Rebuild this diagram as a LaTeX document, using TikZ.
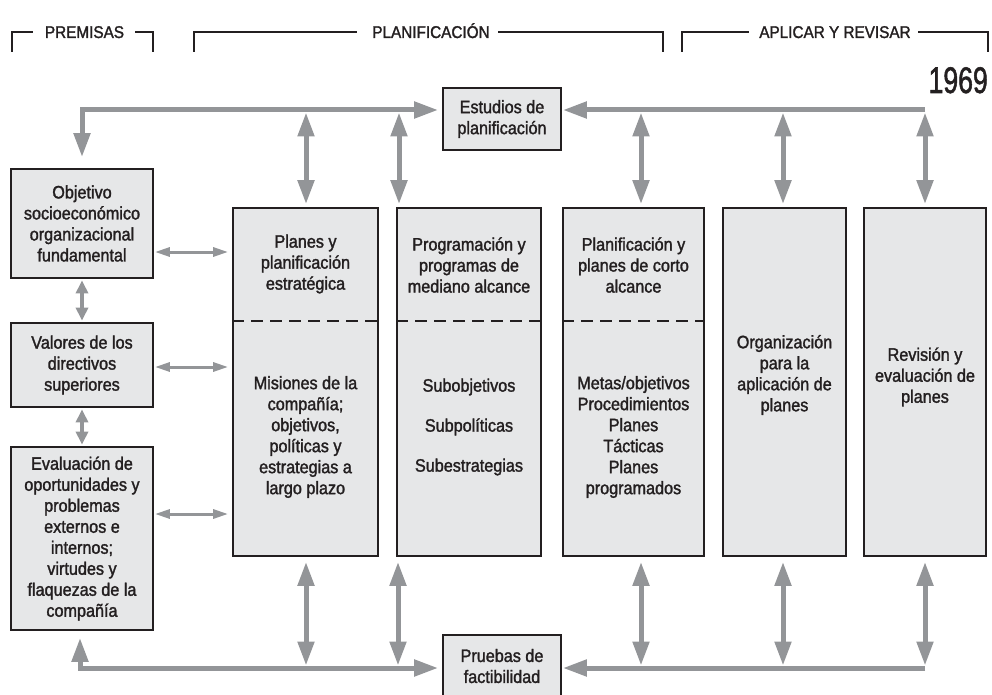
\documentclass[tikz,border=0pt]{standalone}
\usepackage{fontspec}
\setmainfont[FakeStretch=0.9, FakeBold=1.6]{Liberation Sans}
\usetikzlibrary{arrows.meta}
\definecolor{ink}{HTML}{231F20}
\definecolor{boxgray}{HTML}{E6E7E8}
\definecolor{flow}{HTML}{939598}
\tikzset{
  box/.style={draw=ink, line width=1.8pt, fill=boxgray, inner sep=0pt,
    align=center, text=ink, font=\fontsize{18}{21}\selectfont},
  txt/.style={align=center, text=ink, inner sep=0pt, font=\fontsize{18}{21}\selectfont},
  hdr/.style={text=ink, inner sep=0pt, font=\fontsize{17}{20}\selectfont},
  bracket/.style={draw=ink, line width=2pt},
  dashsep/.style={draw=ink, line width=1.4pt, dash pattern=on 12pt off 7pt},
  big/.style={draw=flow, line width=5pt, >={Triangle[length=24pt,width=16pt]}},
  mid/.style={draw=flow, line width=4pt, >={Triangle[length=13pt,width=12pt]}},
  small/.style={draw=flow, line width=3pt, >={Triangle[length=15pt,width=9pt]}},
}
\begin{document}
\begin{tikzpicture}[x=1pt,y=-1pt]
\useasboundingbox (0,0) rectangle (992,695);

% section headings with their brackets
\node[hdr, anchor=base] (hP) at (84.5,38) {PREMISAS};
\node[hdr, anchor=base] (hL) at (431,38) {PLANIFICACIÓN};
\node[hdr, anchor=base] (hA) at (835,38) {APLICAR Y REVISAR};
\draw[bracket] (12,52) -- (12,32) -- (33,32);
\draw[bracket] (135,32) -- (153,32) -- (153,52);
\draw[bracket] (194,52) -- (194,32) -- (357,32);
\draw[bracket] (498,32) -- (663,32) -- (663,52);
\draw[bracket] (682,52) -- (682,32) -- (749,32);
\draw[bracket] (918,32) -- (988,32) -- (988,52);
\node[anchor=base east, text=ink, inner sep=0pt, font=\fontsize{37}{37}\selectfont]
  (yr) at (988,93) {\scalebox{0.8}[1]{1969}};

% premises column
\node[box, minimum width=142pt, minimum height=109pt] (obj) at (82,223.5)
  {Objetivo\\socioeconómico\\organizacional\\fundamental};
\node[box, minimum width=142pt, minimum height=84pt] (val) at (82,365)
  {Valores de los\\directivos\\superiores};
\node[box, minimum width=142pt, minimum height=183pt] (eva) at (82,538.5)
  {Evaluación de\\oportunidades y\\problemas\\externos e\\internos;\\virtudes y\\flaquezas de la\\compañía};

% planning and application columns
\node[box, minimum width=145pt, minimum height=348pt] (b1) at (305.5,382) {};
\node[box, minimum width=144pt, minimum height=348pt] (b2) at (469,382) {};
\node[box, minimum width=141pt, minimum height=348pt] (b3) at (633.5,382) {};
\node[box, minimum width=123pt, minimum height=348pt] (b4) at (784.5,382) {};
\node[box, minimum width=122pt, minimum height=348pt] (b5) at (925,382) {};

\coordinate (dy) at (0,321);
\draw[dashsep] (b1.west |- dy) -- (b1.east |- dy);
\draw[dashsep] (b2.west |- dy) -- (b2.east |- dy);
\draw[dashsep] (b3.west |- dy) -- (b3.east |- dy);

\node[txt] (b1a) at (305.5,264) {Planes y\\planificación\\estratégica};
\node[txt] (b1b) at (305.5,437) {Misiones de la\\compañía;\\objetivos,\\políticas y\\estrategias a\\largo plazo};
\node[txt] (b2a) at (469,265) {Programación y\\programas de\\mediano alcance};
\node[txt] (b2b) at (469,427) {Subobjetivos\\[19pt]Subpolíticas\\[19pt]Subestrategias};
\node[txt] (b3a) at (633.5,265) {Planificación y\\planes de corto\\alcance};
\node[txt] (b3b) at (633.5,437) {Metas/objetivos\\Procedimientos\\Planes\\Tácticas\\Planes\\programados};
\node[txt] (b4a) at (784.5,375) {Organización\\para la\\aplicación de\\planes};
\node[txt] (b5a) at (925,377) {Revisión y\\evaluación de\\planes};

% studies and feasibility boxes
\node[box, minimum width=118pt, minimum height=62pt] (est) at (502,119)
  {Estudios de\\planificación};
\node[box, minimum width=118pt, minimum height=62pt] (pru) at (502,666)
  {Pruebas de\\factibilidad};

% junction points on the top and bottom flow lines
\coordinate (c1) at (306,110);
\coordinate (c2) at (399,110);
\coordinate (c3) at (641,110);
\coordinate (c4) at (783,110);
\coordinate (c5) at (925,110);
\coordinate (d1) at (306,668);
\coordinate (d2) at (398,668);
\coordinate (d3) at (641,668);
\coordinate (d4) at (783,668);
\coordinate (d5) at (925,668);
\coordinate (bl) at (80,668);

% top flow line
\draw[big, <->, shorten <=11pt, shorten >=4pt]
  (obj.north) -- (obj.north |- c1) -- (est.west |- c1);
\draw[big, ->, shorten >=1pt] (c5) -- (est.east |- c5);
\foreach \c/\b in {c1/b1, c2/b2, c3/b3, c4/b4, c5/b5}
  \draw[big, <->, shorten >=3pt] ([yshift=-2.5pt]\c) -- (\c |- \b.north);

% bottom flow line
\draw[big, <->, shorten <=7pt, shorten >=4pt]
  (eva.south -| bl) -- (bl) -- (pru.west |- bl);
\draw[big, ->, shorten >=1pt] (d5) -- (pru.east |- d5);
\foreach \d/\b in {d1/b1, d2/b2, d3/b3, d4/b4, d5/b5}
  \draw[big, <->, shorten <=5pt] (\b.south -| \d) -- ([yshift=2.5pt]\d);

% links inside the premises column
\draw[mid, <->, shorten <=1.5pt, shorten >=1.5pt] (obj.south) -- (val.north);
\draw[mid, <->, shorten <=1.5pt, shorten >=1.5pt] (val.south) -- (eva.north);

% premises to strategic planning
\coordinate (s1) at (0,252);
\coordinate (s2) at (0,367);
\coordinate (s3) at (0,514);
\draw[small, <->, shorten <=1pt, shorten >=4pt] (obj.east |- s1) -- (b1.west |- s1);
\draw[small, <->, shorten <=1pt, shorten >=4pt] (val.east |- s2) -- (b1.west |- s2);
\draw[small, <->, shorten <=1pt, shorten >=4pt] (eva.east |- s3) -- (b1.west |- s3);
\end{tikzpicture}
\end{document}
